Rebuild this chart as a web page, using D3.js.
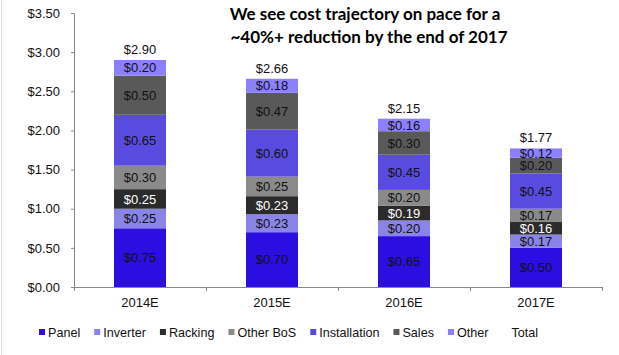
<!DOCTYPE html>
<html><head><meta charset="utf-8">
<script src="https://cdn.jsdelivr.net/npm/d3@7"></script>
<style>
html,body{margin:0;padding:0;background:#fff;}
svg{display:block;font-family:"Liberation Sans",Arial,sans-serif;}
</style></head>
<body>
<script>
const categories = ["2014E","2015E","2016E","2017E"];
const seriesNames = ["Panel","Inverter","Racking","Other BoS","Installation","Sales","Other"];
const panel        = [0.75,0.70,0.65,0.50];
const inverter     = [0.25,0.23,0.20,0.17];
const racking      = [0.25,0.23,0.19,0.16];
const otherBoS     = [0.30,0.25,0.20,0.17];
const installation = [0.65,0.60,0.45,0.45];
const sales        = [0.50,0.47,0.30,0.20];
const other        = [0.20,0.18,0.16,0.12];
const totals       = [2.90,2.66,2.15,1.77];
const yTicks = [0,0.5,1,1.5,2,2.5,3,3.5];
const titleLines = ["We see cost trajectory on pace for a","~40%+ reduction by the end of 2017"];

const seriesValues = [panel,inverter,racking,otherBoS,installation,sales,other];
const colors = ["#2d0ee0","#8b84e8","#2b2b2b","#8a8a8a","#5a4be0","#595959","#8d80ff"];
const labelColors = ["#111","#111","#fff","#111","#111","#111","#111"];

const W=619,H=355;
const svg=d3.select("body").append("svg").attr("width",W).attr("height",H);
svg.append("line").attr("x1",1.5).attr("x2",1.5).attr("y1",0).attr("y2",H).attr("stroke","#e0e0e0");

const x=d3.scaleBand().domain(categories).range([74,602]).paddingInner(0.606).paddingOuter(0.303);
const y=d3.scaleLinear().domain([0,3.5]).range([287,13]);

const rows=categories.map((c,i)=>{const r={cat:c};seriesNames.forEach((s,j)=>r[s]=seriesValues[j][i]);return r;});
const stack=d3.stack().keys(seriesNames)(rows);

const g=svg.append("g");
stack.forEach((layer,j)=>{
  const lg=g.append("g");
  lg.selectAll("rect").data(layer).join("rect")
    .attr("x",d=>x(d.data.cat)).attr("width",x.bandwidth())
    .attr("y",d=>y(d[1])).attr("height",d=>y(d[0])-y(d[1]))
    .attr("fill",colors[j]);
  lg.selectAll("text").data(layer).join("text")
    .attr("x",d=>x(d.data.cat)+x.bandwidth()/2)
    .attr("y",d=>(y(d[0])+y(d[1]))/2)
    .attr("dy","0.36em").attr("text-anchor","middle")
    .attr("font-size","13px").attr("fill",labelColors[j])
    .text(d=>"$"+(d[1]-d[0]).toFixed(2));
});

g.selectAll("text.total").data(categories).join("text").attr("class","total")
  .attr("x",d=>x(d)+x.bandwidth()/2).attr("y",(d,i)=>y(totals[i])-6)
  .attr("text-anchor","middle").attr("font-size","13px").attr("fill","#111")
  .text((d,i)=>"$"+totals[i].toFixed(2));

const ya=svg.append("g").attr("transform","translate(74,0)")
  .call(d3.axisLeft(y).tickValues(yTicks).tickSize(3).tickPadding(11).tickFormat(d=>"$"+d.toFixed(2)));
ya.select(".domain").attr("stroke","#888").attr("d","M-3,13.5H0.5V287.5");
ya.selectAll(".tick line").attr("stroke","#888");
ya.selectAll(".tick text").attr("font-size","13px").attr("fill","#111").attr("font-family","Liberation Sans, Arial, sans-serif");

const xa=svg.append("g").attr("transform","translate(0,287)");
xa.append("line").attr("x1",74).attr("x2",602).attr("y1",0.5).attr("y2",0.5).attr("stroke","#888");
const bounds=d3.range(categories.length+1).map(i=>74+i*x.step());
xa.selectAll("line.t").data(bounds).join("line").attr("class","t")
  .attr("x1",d=>Math.round(d)+0.5).attr("x2",d=>Math.round(d)+0.5).attr("y1",0).attr("y2",4).attr("stroke","#888");
xa.selectAll("text").data(categories).join("text")
  .attr("x",d=>x(d)+x.bandwidth()/2).attr("y",20).attr("text-anchor","middle")
  .attr("font-size","13px").attr("fill","#111").text(d=>d);

svg.selectAll("text.title").data(titleLines).join("text").attr("class","title")
  .attr("x",(d,i)=>i?369:365).attr("y",(d,i)=>20+i*23).attr("text-anchor","middle")
  .attr("font-family","Lato, 'Open Sans', sans-serif").attr("font-weight","bold").attr("font-size","17px").attr("fill","#000")
  .text(d=>d);

const legendItems=seriesNames.concat(["Total"]);
let lx=39;
const leg=svg.append("g");
legendItems.forEach((name,i)=>{
  if(i<colors.length){
    leg.append("rect").attr("x",lx).attr("y",329).attr("width",6).attr("height",6).attr("fill",colors[i]);
  }
  const t=leg.append("text").attr("x",lx+9).attr("y",337).attr("font-size","12.6px").attr("fill","#111").text(name);
  lx+=9+t.node().getComputedTextLength()+14;
});
</script>
</body></html>
